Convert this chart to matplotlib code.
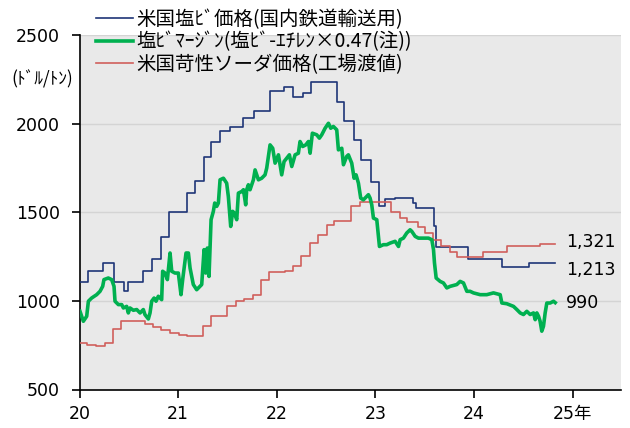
import matplotlib
matplotlib.use("Agg")
import matplotlib.pyplot as plt
from matplotlib.lines import Line2D

plt.rcParams['font.family'] = ['DejaVu Sans', 'Noto Sans CJK JP']

# US PVC price (domestic rail shipment), change points in decimal years
pvc_years = [20.00, 20.086, 20.24, 20.35, 20.45, 20.49, 20.64, 20.73, 20.83, 20.91,
             21.09, 21.17, 21.26, 21.33, 21.42, 21.53, 21.66, 21.77, 21.93,
             22.07, 22.16, 22.27, 22.35, 22.61, 22.68, 22.78, 22.85, 22.96,
             23.04, 23.10, 23.20, 23.38, 23.41, 23.59, 23.61, 23.94,
             24.28, 24.56, 24.82]
pvc_values = [1104, 1167, 1214, 1104, 1058, 1104, 1167, 1236, 1360, 1499,
              1608, 1679, 1811, 1899, 1961, 1983, 2031, 2072, 2184,
              2209, 2152, 2172, 2237, 2124, 2017, 1905, 1796, 1668,
              1533, 1576, 1580, 1555, 1524, 1420, 1302, 1236,
              1191, 1213, 1213]

# US caustic soda price (ex-works), change points
soda_years = [20.00, 20.08, 20.17, 20.26, 20.34, 20.42, 20.66, 20.75, 20.83, 20.92,
              21.01, 21.09, 21.25, 21.33, 21.50, 21.59, 21.67, 21.76, 21.84, 21.92,
              22.08, 22.16, 22.25, 22.34, 22.42, 22.51, 22.58, 22.75, 22.84,
              23.16, 23.25, 23.32, 23.43, 23.50, 23.58, 23.66, 23.76, 23.83,
              24.09, 24.33, 24.67, 24.82]
soda_values = [763, 750, 744, 763, 842, 885, 872, 853, 834, 819,
               810, 804, 857, 913, 969, 997, 1012, 1035, 1120, 1161,
               1170, 1195, 1251, 1326, 1373, 1426, 1448, 1537, 1557,
               1501, 1467, 1443, 1417, 1383, 1341, 1307, 1274, 1245,
               1274, 1311, 1321, 1321]

# PVC margin (PVC - ethylene x 0.47)
margin_years = [20.005, 20.039, 20.073, 20.090, 20.123, 20.174, 20.208, 20.235, 20.248, 20.292,
                20.326, 20.350, 20.360, 20.394, 20.428, 20.445, 20.478, 20.495, 20.512, 20.546,
                20.580, 20.614, 20.647, 20.664, 20.698, 20.715, 20.732, 20.756, 20.776, 20.799,
                20.833, 20.843, 20.867, 20.891, 20.918, 20.935, 20.968, 21.002, 21.029, 21.046,
                21.080, 21.104, 21.121, 21.154, 21.188, 21.239, 21.263, 21.280, 21.296, 21.313,
                21.334, 21.357, 21.371, 21.391, 21.408, 21.425, 21.459, 21.492, 21.509, 21.533,
                21.553, 21.570, 21.594, 21.611, 21.645, 21.662, 21.685, 21.695, 21.712, 21.729,
                21.763, 21.780, 21.814, 21.847, 21.881, 21.898, 21.932, 21.959, 21.983, 22.017,
                22.050, 22.074, 22.101, 22.128, 22.152, 22.186, 22.219, 22.236, 22.263, 22.294,
                22.321, 22.338, 22.361, 22.405, 22.432, 22.456, 22.490, 22.524, 22.547, 22.574,
                22.608, 22.625, 22.659, 22.676, 22.709, 22.726, 22.760, 22.784, 22.804, 22.828,
                22.851, 22.878, 22.912, 22.929, 22.946, 22.963, 22.980, 23.014, 23.041, 23.081,
                23.115, 23.149, 23.200, 23.234, 23.251, 23.284, 23.318, 23.352, 23.369, 23.403,
                23.436, 23.487, 23.538, 23.572, 23.589, 23.599, 23.616, 23.656, 23.690, 23.724,
                23.758, 23.825, 23.859, 23.893, 23.927, 23.960, 23.994, 24.062, 24.129, 24.197,
                24.265, 24.282, 24.332, 24.400, 24.434, 24.468, 24.501, 24.535, 24.569, 24.603,
                24.620, 24.637, 24.654, 24.670, 24.687, 24.704, 24.721, 24.738, 24.772, 24.806,
                24.823]
margin_values = [941, 885, 913, 998, 1016, 1035, 1054, 1082, 1120, 1129,
                 1120, 1082, 998, 979, 979, 960, 969, 932, 960, 947,
                 951, 932, 951, 922, 898, 932, 998, 1016, 998, 1026,
                 1007, 1167, 1157, 1120, 1270, 1167, 1157, 1157, 1035, 1120,
                 1270, 1270, 1185, 1092, 1063, 1092, 1289, 1157, 1298, 1138,
                 1458, 1505, 1552, 1533, 1552, 1683, 1692, 1664, 1589, 1420,
                 1505, 1495, 1458, 1608, 1617, 1627, 1542, 1627, 1655, 1627,
                 1683, 1739, 1683, 1692, 1711, 1749, 1880, 1861, 1777, 1824,
                 1711, 1786, 1805, 1824, 1758, 1824, 1833, 1899, 1871, 1880,
                 1899, 1833, 1946, 1937, 1918, 1937, 1974, 2002, 1974, 1984,
                 1965, 1852, 1861, 1768, 1815, 1824, 1777, 1692, 1711, 1664,
                 1580, 1570, 1589, 1599, 1580, 1542, 1467, 1458, 1307, 1317,
                 1317, 1326, 1336, 1307, 1345, 1354, 1383, 1401, 1392, 1364,
                 1354, 1354, 1354, 1345, 1289, 1214, 1129, 1110, 1101, 1073,
                 1082, 1092, 1110, 1101, 1054, 1054, 1045, 1035, 1035, 1045,
                 1035, 988, 984, 969, 951, 932, 923, 941, 923, 932,
                 894, 932, 913, 885, 829, 857, 932, 988, 988, 998,
                 990]

x_ticks = [20, 21, 22, 23, 24, 25]
x_tick_labels = ['20', '21', '22', '23', '24', '25年']
y_ticks = [500, 1000, 1500, 2000, 2500]

legend_labels = ['米国塩ﾋﾞ価格(国内鉄道輸送用)',
                 '塩ﾋﾞﾏｰｼﾞﾝ(塩ﾋﾞ-ｴﾁﾚﾝ×0.47(注))',
                 '米国苛性ソーダ価格(工場渡値)']
unit_label = '(ﾄﾞﾙ/ﾄﾝ)'

c_blue = '#1f3577'
c_green = '#00b050'
c_red = '#d05f5c'

fig = plt.figure(figsize=(6.30, 4.28), dpi=100)
ax = fig.add_axes([79.5 / 630, 1 - 389.5 / 428, (621 - 79.5) / 630, (389.5 - 35) / 428])
ax.set_facecolor('#e9e9e9')

ax.plot(pvc_years, pvc_values, drawstyle='steps-post', color=c_blue, lw=1.2, zorder=3)
ax.plot(soda_years, soda_values, drawstyle='steps-post', color=c_red, lw=1.2, zorder=3)
ax.plot(margin_years, margin_values, color=c_green, lw=2.6, zorder=4,
        solid_joinstyle='round')

ax.set_xlim(20, 25.49)
ax.set_ylim(500, 2500)
ax.set_xticks(x_ticks)
ax.set_xticklabels(x_tick_labels)
ax.set_yticks(y_ticks)
ax.tick_params(axis='both', labelsize=12.5, direction='out', length=6, width=1.2,
               color='black')
ax.tick_params(axis='x', pad=5)
ax.tick_params(axis='y', pad=8)
ax.grid(axis='y', color='#d4d4d4', lw=1.0)
ax.set_axisbelow(True)
for s in ['top', 'right']:
    ax.spines[s].set_visible(False)
for s in ['left', 'bottom']:
    ax.spines[s].set_linewidth(1.2)

# end-of-series value labels
ax.text(24.93, soda_values[-1] + 10, f'{soda_values[-1]:,}', fontsize=12.5, va='center')
ax.text(24.93, pvc_values[-1] - 40, f'{pvc_values[-1]:,}', fontsize=12.5, va='center')
ax.text(24.93, margin_values[-1], f'{margin_values[-1]:,}', fontsize=12.5, va='center')

fig.text(42 / 630, 1 - 79 / 428, unit_label, fontsize=12.5, ha='center', va='center',
         family=['Noto Sans CJK JP', 'DejaVu Sans'])

handles = [Line2D([], [], color=c_blue, lw=1.2),
           Line2D([], [], color=c_green, lw=2.6),
           Line2D([], [], color=c_red, lw=1.2)]
fig.legend(handles, legend_labels, loc='upper left',
           bbox_to_anchor=(96 / 630, 1 - 9 / 428), frameon=False,
           prop={'family': ['Noto Sans CJK JP', 'DejaVu Sans'], 'size': 14},
           handlelength=1.9, handletextpad=0.15, labelspacing=0.08,
           borderpad=0.0, borderaxespad=0)

fig.savefig('out.png', dpi=100)
